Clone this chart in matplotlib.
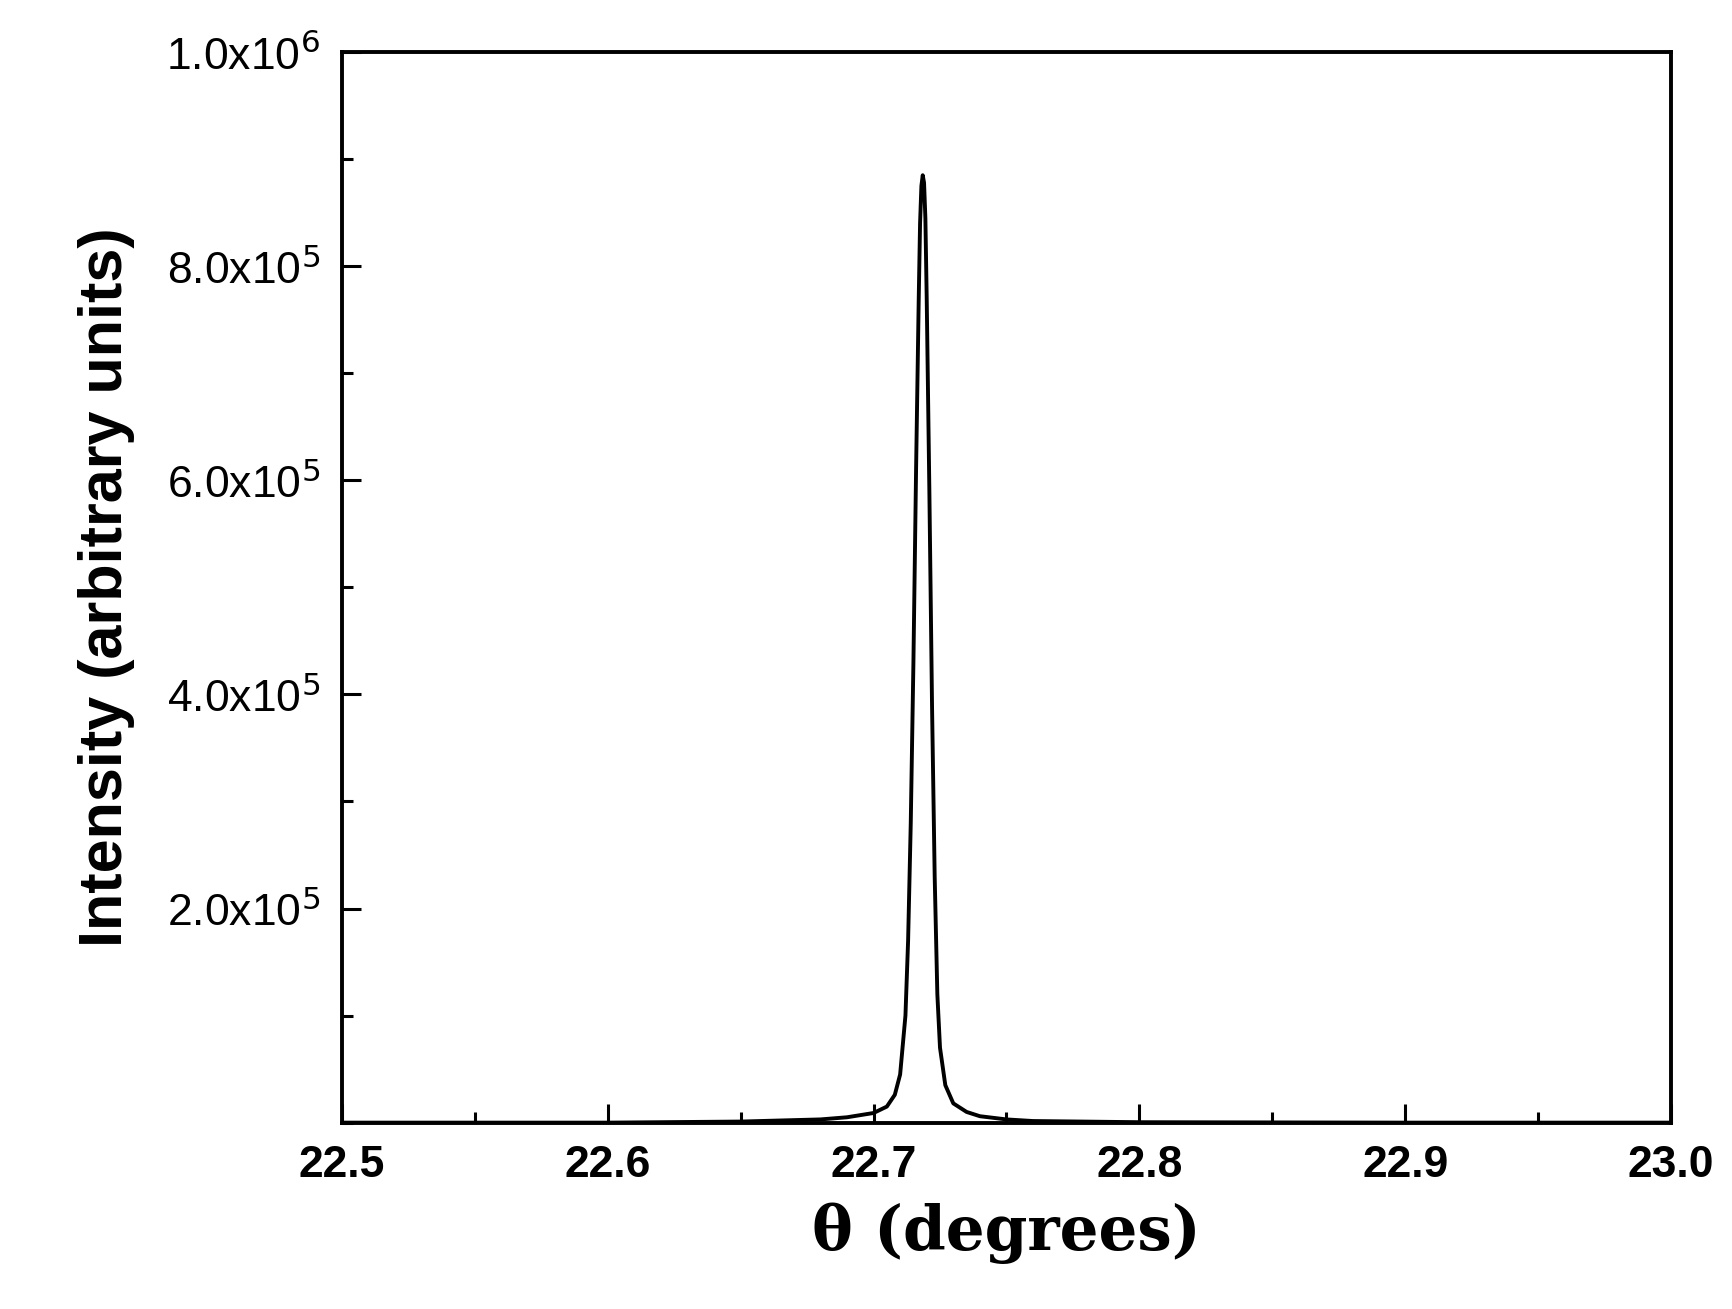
import matplotlib
matplotlib.use("Agg")
import matplotlib.pyplot as plt
from matplotlib.ticker import MultipleLocator, FixedLocator

theta = [22.50, 22.60, 22.65, 22.68, 22.69, 22.70, 22.705, 22.708, 22.710, 22.712, 22.713, 22.714,
         22.715, 22.716, 22.717, 22.7175, 22.718, 22.7185, 22.719, 22.7195, 22.720, 22.721,
         22.722, 22.723, 22.724, 22.725, 22.727, 22.73, 22.735, 22.74, 22.75, 22.76, 22.80, 22.90, 23.00]
intensity = [0, 0, 1000, 3000, 5000, 9000, 15000, 26000, 45000, 100000, 170000, 280000,
             430000, 610000, 770000, 840000, 875000, 885000, 878000, 845000, 770000, 590000,
             390000, 230000, 120000, 70000, 35000, 18000, 10000, 6000, 3000, 1500, 400, 0, 0]
ytick_vals = [2e5, 4e5, 6e5, 8e5, 1e6]
ytick_labels = ["2.0x10$^5$", "4.0x10$^5$", "6.0x10$^5$", "8.0x10$^5$", "1.0x10$^6$"]
xtick_vals = [22.5, 22.6, 22.7, 22.8, 22.9, 23.0]

W, H = 1560, 1180
fig = plt.figure(figsize=(17.32, 13.09), dpi=100)
ax = fig.add_axes([308/W, 1-1012/H, (1505-308)/W, (1012-47)/H])
ax.plot(theta, intensity, color="black", lw=2.8)
ax.set_xlim(22.5, 23.0)
ax.set_ylim(0, 1e6)
ax.xaxis.set_major_locator(FixedLocator(xtick_vals))
ax.xaxis.set_minor_locator(MultipleLocator(0.05))
ax.set_xticklabels([f"{v:.1f}" for v in xtick_vals], fontweight="bold", fontsize=32, family="Liberation Sans")
ax.yaxis.set_major_locator(FixedLocator(ytick_vals))
ax.yaxis.set_minor_locator(MultipleLocator(1e5))
ax.set_yticklabels(ytick_labels, fontsize=32, family="Liberation Sans")
ax.tick_params(which="both", direction="in", width=2.2)
ax.tick_params(which="major", length=14, pad=16)
ax.tick_params(which="minor", length=8)
for s in ax.spines.values():
    s.set_linewidth(2.8)
ax.set_xlabel("θ (degrees)", fontsize=44, fontweight="bold", family="DejaVu Serif", labelpad=12)
ax.set_ylabel("Intensity (arbitrary units)", fontsize=44, fontweight="bold", family="Liberation Sans", labelpad=22)
fig.savefig("out.png", dpi=100)
